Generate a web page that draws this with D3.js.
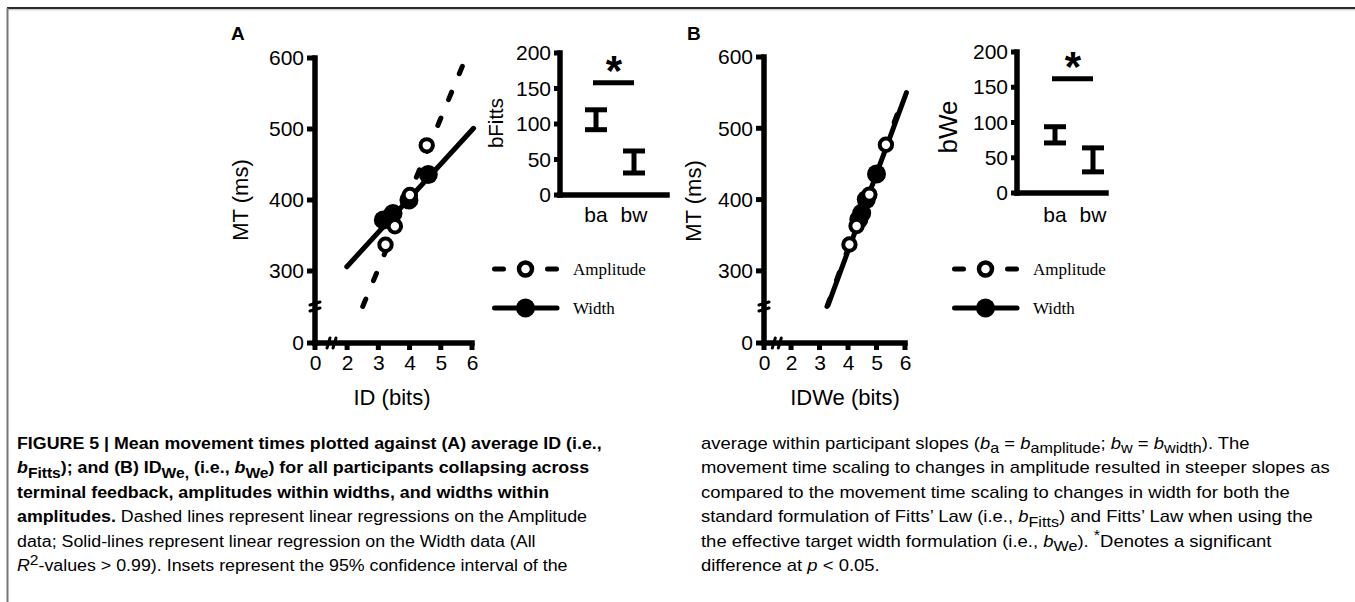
<!DOCTYPE html>
<html><head><meta charset="utf-8">
<script src="https://cdn.jsdelivr.net/npm/d3@7"></script>
<style>
body{margin:0;background:#fff}
svg{display:block}
text{font-family:"Liberation Sans",Arial,Helvetica,sans-serif;fill:#000}
</style>
</head><body>
<svg id="c" width="1355" height="602"></svg>
<script>
// ---------------- data ----------------
const xTicks = [0, 2, 3, 4, 5, 6];
const yTicks = [0, 300, 400, 500, 600];
const insetTicks = [0, 50, 100, 150, 200];
const insetCats = ["ba", "bw"];
const legendLabels = ["Amplitude", "Width"];

// movement times (ms)
const ampMT = [337, 363, 407, 477];
const widMT = [372, 381, 400, 436];
// Panel A: ID (bits)
const ampID_A = [3.23, 3.53, 4.01, 4.55];
const widID_A = [3.16, 3.47, 3.98, 4.60];
// Panel B: IDWe (bits)
const ampID_B = [4.05, 4.30, 4.75, 5.33];
const widID_B = [4.38, 4.48, 4.64, 5.00];

// regression line end points
const ampFitA_x = [2.50, 5.82], ampFitA_y = [250, 602];
const widFitA_x = [1.99, 6.05], widFitA_y = [306, 501];
const ampFitB_x = [3.26, 5.92], ampFitB_y = [250, 541];
const widFitB_x = [3.30, 6.05], widFitB_y = [252, 550];

// inset 95% CIs
const bFittsLow = [92, 31], bFittsHigh = [120, 62];
const bWeLow = [71, 30], bWeHigh = [94, 64];
const sigA = 158, sigB = 162;

// ---------------- drawing ----------------
const svg = d3.select("#c");
const AXW = 5.5;

// frame
svg.append("line").attr("x1", 7).attr("x2", 1355).attr("y1", 8).attr("y2", 8).attr("stroke", "#2a2a2a").attr("stroke-width", 2);
svg.append("line").attr("x1", 7).attr("x2", 1355).attr("y1", 9.8).attr("y2", 9.8).attr("stroke", "#bbb").attr("stroke-width", 1);
svg.append("line").attr("x1", 7.5).attr("x2", 7.5).attr("y1", 8).attr("y2", 602).attr("stroke", "#777").attr("stroke-width", 2);

function seg(g, x1, y1, x2, y2, w, cap) {
  return g.append("line").attr("x1", x1).attr("y1", y1).attr("x2", x2).attr("y2", y2)
    .attr("stroke", "#000").attr("stroke-width", w).attr("stroke-linecap", cap || "butt");
}

function leftAxis(g, scale, x0, ticks, size, pad) {
  const a = g.append("g").attr("transform", `translate(${x0},0)`)
    .call(d3.axisLeft(scale).tickValues(ticks).tickFormat(d3.format("d")).tickSize(size).tickSizeOuter(0).tickPadding(pad));
  a.select(".domain").remove();
  a.selectAll(".tick line").remove();
  a.selectAll(".tick text").attr("font-size", 21).attr("font-family", "'Liberation Sans', Arial, sans-serif").attr("fill", "#000");
  const r = scale.range();
  seg(g, x0, r[0], x0, r[r.length - 1], AXW, "square");
  ticks.forEach(t => seg(g, x0 - size, scale(t), x0, scale(t), 5));
}
function bottomAxis(g, scale, y0, ticks, size, pad) {
  const a = g.append("g").attr("transform", `translate(0,${y0})`)
    .call(d3.axisBottom(scale).tickValues(ticks).tickFormat(d3.format("d")).tickSize(size).tickSizeOuter(0).tickPadding(pad));
  a.select(".domain").remove();
  a.selectAll(".tick line").remove();
  a.selectAll(".tick text").attr("font-size", 21).attr("font-family", "'Liberation Sans', Arial, sans-serif").attr("fill", "#000");
  const r = scale.range();
  seg(g, r[0], y0, r[r.length - 1], y0, AXW, "square");
  ticks.forEach(t => seg(g, scale(t), y0, scale(t), y0 + size, 5));
}

function mainPanel(o) {
  const g = svg.append("g");
  const x = d3.scaleLinear().domain([0, 1.5, 6]).range(o.xr);
  const y = d3.scaleLinear().domain([0, 250, 600]).range(o.yr);

  bottomAxis(g, x, o.yr[0], xTicks, 7, 5);
  leftAxis(g, y, o.xr[0], yTicks, 8, 3);

  // axis breaks
  const by = y(250), bx = x(1.5);
  [-3, 3].forEach(d => {
    seg(g, o.xr[0] - 5, by + d + 1.5, o.xr[0] + 5, by + d - 1.5, 3, "round");
    seg(g, bx + d - 1.5, o.yr[0] + 5, bx + d + 1.5, o.yr[0] - 5, 3, "round");
  });

  const line = d3.line().x(d => x(d[0])).y(d => y(d[1]));
  g.append("path").datum(d3.zip(o.wfx, o.wfy)).attr("d", line)
    .attr("fill", "none").attr("stroke", "#000").attr("stroke-width", 5).attr("stroke-linecap", "round");
  g.append("path").datum(d3.zip(o.afx, o.afy)).attr("d", line)
    .attr("fill", "none").attr("stroke", "#000").attr("stroke-width", 5)
    .attr("stroke-linecap", "round").attr("stroke-dasharray", "8,20");

  g.selectAll("circle.w").data(d3.zip(o.wid, widMT)).join("circle").attr("class", "w")
    .attr("cx", d => x(d[0])).attr("cy", d => y(d[1])).attr("r", 9.5).attr("fill", "#000");
  g.selectAll("circle.a").data(d3.zip(o.amp, ampMT)).join("circle").attr("class", "a")
    .attr("cx", d => x(d[0])).attr("cy", d => y(d[1])).attr("r", 6.2)
    .attr("fill", "#fff").attr("stroke", "#000").attr("stroke-width", 4);

  g.append("text").attr("x", o.xlab[0]).attr("y", o.xlab[1]).attr("text-anchor", "middle")
    .attr("font-size", 22).text(o.xtitle);
  g.append("text").attr("transform", `translate(${o.ylab[0]},${o.ylab[1]}) rotate(-90)`)
    .attr("text-anchor", "middle").attr("font-size", 22).text("MT (ms)");
  g.append("text").attr("x", o.letter[0]).attr("y", o.letter[1]).attr("font-size", 19)
    .attr("font-weight", "bold").text(o.letterText);
}

function inset(o) {
  const g = svg.append("g");
  const y = d3.scaleLinear().domain([0, 200]).range(o.yr);
  const x = d3.scalePoint().domain(insetCats).range(o.cats);
  leftAxis(g, y, o.x0, insetTicks, 6, 3);
  seg(g, o.x0, o.yr[0], o.xend, o.yr[0], AXW, "square");
  g.selectAll("text.cat").data(insetCats).join("text").attr("class", "cat")
    .attr("x", d => x(d)).attr("y", o.catY).attr("text-anchor", "middle").attr("font-size", 21).text(d => d);
  const cw = 11;
  d3.zip(insetCats, o.low, o.high).forEach(([c, lo, hi]) => {
    const cx = x(c);
    seg(g, cx, y(lo), cx, y(hi), 5);
    [lo, hi].forEach(v => seg(g, cx - cw, y(v), cx + cw, y(v), 5));
  });
  seg(g, x("ba") - 3, y(o.sig), x("bw"), y(o.sig), 5);
  g.append("text").attr("x", (x("ba") + x("bw")) / 2 - 1).attr("y", y(o.sig) + 2).attr("text-anchor", "middle")
    .attr("font-size", 42).attr("font-weight", "bold").text("*");
  g.append("text").attr("transform", `translate(${o.lab[0]},${o.lab[1]}) rotate(-90)`)
    .attr("text-anchor", "middle").attr("font-size", o.labSize).text(o.label);
}

function legend(o) {
  const g = svg.append("g");
  const ys = [o.y0, o.y0 + 39];
  [[o.x0, o.x0 + 14], [o.x0 + 53, o.x0 + 67]].forEach(s => seg(g, s[0] + 2.5, ys[0], s[1] - 2.5, ys[0], 5, "round"));
  g.append("circle").attr("cx", o.x0 + 33.5).attr("cy", ys[0]).attr("r", 6.5)
    .attr("fill", "#fff").attr("stroke", "#000").attr("stroke-width", 4.5);
  seg(g, o.x0 + 2.5, ys[1], o.x0 + 65, ys[1], 5, "round");
  g.append("circle").attr("cx", o.x0 + 33.5).attr("cy", ys[1]).attr("r", 9.5).attr("fill", "#000");
  g.selectAll("text").data(legendLabels).join("text")
    .attr("x", o.x0 + 81).attr("y", (d, i) => ys[i] + 5.5)
    .attr("font-size", 17)
    .style("font-family", "'Liberation Serif','Times New Roman',serif").text(d => d);
}

mainPanel({ xr: [315, 331.5, 472], yr: [343, 306.5, 58], amp: ampID_A, wid: widID_A,
  afx: ampFitA_x, afy: ampFitA_y, wfx: widFitA_x, wfy: widFitA_y,
  xlab: [392, 405], ylab: [248, 200], xtitle: "ID (bits)", letter: [231, 40], letterText: "A" });
mainPanel({ xr: [764, 776.8, 905], yr: [343, 306.5, 57], amp: ampID_B, wid: widID_B,
  afx: ampFitB_x, afy: ampFitB_y, wfx: widFitB_x, wfy: widFitB_y,
  xlab: [845, 405], ylab: [701, 201], xtitle: "IDWe (bits)", letter: [687, 40], letterText: "B" });

inset({ x0: 560, xend: 667, yr: [195, 53], cats: [596, 634], low: bFittsLow, high: bFittsHigh, sig: sigA,
  catY: 222, lab: [503, 123], label: "bFitts", labSize: 20.5 });
inset({ x0: 1017, xend: 1106, yr: [193, 52], cats: [1055, 1093], low: bWeLow, high: bWeHigh, sig: sigB,
  catY: 222, lab: [957, 127], label: "bWe", labSize: 26 });

legend({ x0: 492, y0: 269 });
legend({ x0: 952, y0: 269 });

// ---------------- caption ----------------
const capLeft = [
  [{t: "FIGURE 5 | Mean movement times plotted against (A) average ID (i.e.,", b: 1}],
  [{t: "b", b: 1, i: 1}, {t: "Fitts", b: 1, sub: 1}, {t: "); and (B) ID", b: 1}, {t: "We,", b: 1, sub: 1},
   {t: " (i.e., ", b: 1}, {t: "b", b: 1, i: 1}, {t: "We", b: 1, sub: 1}, {t: ") for all participants collapsing across", b: 1}],
  [{t: "terminal feedback, amplitudes within widths, and widths within", b: 1}],
  [{t: "amplitudes.", b: 1}, {t: " Dashed lines represent linear regressions on the Amplitude"}],
  [{t: "data; Solid-lines represent linear regression on the Width data (All"}],
  [{t: "R", i: 1}, {t: "2", sup: 1}, {t: "-values > 0.99). Insets represent the 95% confidence interval of the"}]
];
const capRight = [
  [{t: "average within participant slopes ("}, {t: "b", i: 1}, {t: "a", sub: 1}, {t: " = "}, {t: "b", i: 1},
   {t: "amplitude", sub: 1}, {t: "; "}, {t: "b", i: 1}, {t: "w", sub: 1}, {t: " = "}, {t: "b", i: 1}, {t: "width", sub: 1}, {t: "). The"}],
  [{t: "movement time scaling to changes in amplitude resulted in steeper slopes as"}],
  [{t: "compared to the movement time scaling to changes in width for both the"}],
  [{t: "standard formulation of Fitts’ Law (i.e., "}, {t: "b", i: 1}, {t: "Fitts", sub: 1}, {t: ") and Fitts’ Law when using the"}],
  [{t: "the effective target width formulation (i.e., "}, {t: "b", i: 1}, {t: "We", sub: 1}, {t: "). "}, {t: "*", sup: 1}, {t: "Denotes a significant"}],
  [{t: "difference at "}, {t: "p", i: 1}, {t: " < 0.05."}]
];

const cap = svg.append("g").attr("class", "caption");
function richLine(x, y, segs) {
  const t = cap.append("text").attr("x", x).attr("y", y).attr("font-size", 16);
  let off = 0;
  segs.forEach(s => {
    const want = s.sub ? 0.28 : s.sup ? -0.42 : 0;
    const ts = t.append("tspan").text(s.t);
    if (want !== off) ts.attr("dy", (want - off) * 16);
    off = want;
    if (s.sub || s.sup) ts.attr("font-size", 14);
    if (s.b) ts.attr("font-weight", "bold");
    if (s.i) ts.attr("font-style", "italic");
  });
  return t;
}
const capY0 = 449, capDY = 24.5;
const leftT = capLeft.map((l, i) => richLine(17, capY0 + i * capDY, l));
const rightT = capRight.map((l, i) => richLine(701, capY0 + i * capDY, l));
const kR = 629 / rightT[1].node().getComputedTextLength();
const kL = 585 / leftT[0].node().getComputedTextLength();
leftT.forEach(t => t.attr("transform", `translate(17,0) scale(${kL},1) translate(-17,0)`));
rightT.forEach(t => t.attr("transform", `translate(701,0) scale(${kR},1) translate(-701,0)`));
</script>
</body></html>
